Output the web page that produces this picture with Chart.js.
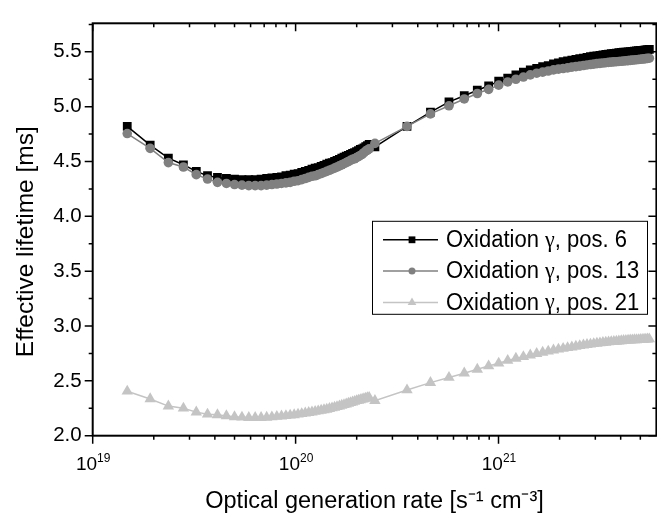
<!DOCTYPE html>
<html><head><meta charset="utf-8">
<script src="https://cdn.jsdelivr.net/npm/chart.js@4.4.1/dist/chart.umd.min.js"></script>
<style>html,body{margin:0;padding:0;background:#fff;overflow:hidden;}#wrap{width:657px;height:518px;overflow:hidden;}canvas{display:block;}</style>
</head><body><div id="wrap"><canvas id="c" width="663" height="518"></canvas></div>
<script>
const generationRate = [
 1.48e19,1.92e19,2.36e19,2.80e19,3.24e19,3.68e19,4.12e19,4.56e19,5.00e19,5.44e19,
 5.88e19,6.32e19,6.76e19,7.20e19,7.64e19,8.08e19,8.52e19,8.96e19,9.40e19,9.84e19,
 1.028e20,1.072e20,1.116e20,1.160e20,1.204e20,1.248e20,1.292e20,1.336e20,1.380e20,1.424e20,
 1.468e20,1.512e20,1.556e20,1.600e20,1.644e20,1.688e20,1.732e20,1.776e20,1.820e20,1.864e20,
 1.908e20,1.952e20,1.996e20,2.040e20,2.084e20,2.128e20,2.172e20,2.216e20,2.260e20,2.304e20,
 2.46e20,3.54e20,4.62e20,5.70e20,6.78e20,7.86e20,8.94e20,1.002e21,1.110e21,1.218e21,
 1.326e21,1.434e21,1.542e21,1.650e21,1.758e21,1.866e21,1.974e21,2.082e21,2.190e21,2.298e21,
 2.406e21,2.514e21,2.622e21,2.730e21,2.838e21,2.946e21,3.054e21,3.162e21,3.270e21,3.378e21,
 3.486e21,3.594e21,3.702e21,3.810e21,3.918e21,4.026e21,4.134e21,4.242e21,4.350e21,4.458e21,
 4.566e21,4.674e21,4.782e21,4.890e21,4.998e21,5.106e21,5.214e21,5.322e21,5.430e21,5.538e21
];
const lifetimePos6 = [
 4.82,4.65,4.53,4.47,4.41,4.37,4.355,4.345,4.34,4.335,
 4.335,4.335,4.34,4.345,4.35,4.355,4.36,4.37,4.375,4.385,
 4.39,4.40,4.41,4.42,4.43,4.44,4.445,4.455,4.465,4.475,
 4.485,4.49,4.50,4.51,4.52,4.53,4.54,4.55,4.555,4.565,
 4.575,4.58,4.59,4.60,4.61,4.615,4.625,4.635,4.645,4.655,
 4.634,4.82,4.95,5.044,5.10,5.15,5.19,5.232,5.26,5.29,
 5.315,5.335,5.35,5.365,5.375,5.39,5.40,5.41,5.418,5.425,
 5.43,5.437,5.443,5.45,5.455,5.46,5.464,5.468,5.472,5.476,
 5.48,5.483,5.486,5.489,5.492,5.494,5.496,5.498,5.50,5.502,
 5.504,5.506,5.508,5.51,5.512,5.514,5.516,5.518,5.52,5.522
];
const lifetimePos13 = [
 4.755,4.62,4.49,4.45,4.38,4.34,4.31,4.30,4.29,4.285,
 4.28,4.28,4.28,4.285,4.29,4.295,4.30,4.305,4.31,4.32,
 4.325,4.335,4.345,4.355,4.365,4.37,4.38,4.39,4.40,4.41,
 4.42,4.43,4.44,4.45,4.46,4.47,4.48,4.49,4.50,4.51,
 4.52,4.525,4.535,4.545,4.555,4.565,4.58,4.595,4.605,4.615,
 4.665,4.82,4.934,5.008,5.07,5.12,5.158,5.196,5.225,5.25,
 5.27,5.29,5.305,5.315,5.325,5.335,5.342,5.348,5.354,5.36,
 5.365,5.37,5.375,5.38,5.384,5.388,5.392,5.395,5.398,5.401,
 5.404,5.406,5.408,5.41,5.412,5.414,5.416,5.418,5.42,5.422,
 5.424,5.426,5.428,5.43,5.432,5.434,5.436,5.438,5.44,5.442
];
const lifetimePos21 = [
 2.405,2.335,2.27,2.25,2.215,2.195,2.19,2.18,2.172,2.168,
 2.165,2.165,2.165,2.167,2.17,2.175,2.178,2.182,2.186,2.19,
 2.195,2.20,2.205,2.21,2.215,2.22,2.225,2.23,2.235,2.24,
 2.246,2.252,2.258,2.264,2.27,2.276,2.282,2.288,2.294,2.30,
 2.306,2.312,2.318,2.322,2.327,2.332,2.336,2.34,2.344,2.348,
 2.32,2.416,2.484,2.53,2.57,2.605,2.635,2.66,2.685,2.705,
 2.72,2.735,2.748,2.76,2.77,2.78,2.788,2.795,2.802,2.808,
 2.814,2.82,2.825,2.83,2.834,2.838,2.842,2.845,2.848,2.851,
 2.854,2.856,2.858,2.86,2.862,2.864,2.866,2.868,2.87,2.871,
 2.872,2.873,2.874,2.875,2.876,2.877,2.878,2.879,2.88,2.881
];
const seriesNames = ['Oxidation γ, pos. 6','Oxidation γ, pos. 13','Oxidation γ, pos. 21'];
const xTickValues = [1e19,1e20,1e21];
const xTickBase = ['10','10','10'];
const xTickExponents = ['19','20','21'];
const xMinorTicks = [2e19,3e19,4e19,5e19,6e19,7e19,8e19,9e19,2e20,3e20,4e20,5e20,6e20,7e20,8e20,9e20,2e21,3e21,4e21,5e21];
const yTickValues = [2.0,2.5,3.0,3.5,4.0,4.5,5.0,5.5];
const yTickLabels = ['2.0','2.5','3.0','3.5','4.0','4.5','5.0','5.5'];
const yMinorTicks = [2.25,2.75,3.25,3.75,4.25,4.75,5.25,5.75];
const xTitle = 'Optical generation rate [s⁻¹ cm⁻³]';
const yTitle = 'Effective lifetime [ms]';

const FONT = "'Liberation Sans', Arial, sans-serif";
const SERIF = "'Liberation Serif', 'Times New Roman', serif";
const styles = [
  {color:'#000000', pointStyle:'rect', radius:6.2, legendRadius:4.8},
  {color:'#808080', pointStyle:'circle', radius:4.8, legendRadius:3.5},
  {color:'#c4c4c4', pointStyle:'triangle', radius:6.6, legendRadius:5}
];
const seriesData = [lifetimePos6, lifetimePos13, lifetimePos21];

const datasets = seriesData.map((arr, i) => ({
  label: seriesNames[i],
  data: generationRate.map((x, k) => ({x: x, y: arr[k]})),
  borderColor: styles[i].color,
  backgroundColor: styles[i].color,
  pointBackgroundColor: styles[i].color,
  pointBorderColor: styles[i].color,
  pointBorderWidth: 0,
  pointStyle: styles[i].pointStyle,
  pointRadius: styles[i].radius,
  borderWidth: 1.5,
  tension: 0,
  order: [2, 1, 3][i]
}));

function drawMarker(ctx, style, r, x, y) {
  ctx.beginPath();
  if (style === 'rect') {
    const s = Math.SQRT1_2 * r;
    ctx.rect(x - s, y - s, 2 * s, 2 * s);
  } else if (style === 'circle') {
    ctx.arc(x, y, r, 0, Math.PI * 2);
  } else {
    const h = Math.sin(Math.PI / 3) * r;
    ctx.moveTo(x, y - r);
    ctx.lineTo(x + h, y + r / 2);
    ctx.lineTo(x - h, y + r / 2);
    ctx.closePath();
  }
  ctx.fill();
}

function drawMixed(ctx, text, x, y, size, measureOnly) {
  const parts = text.split('γ');
  let cx = x;
  parts.forEach((p, idx) => {
    ctx.font = size + 'px ' + FONT;
    if (!measureOnly) ctx.fillText(p, cx, y);
    cx += ctx.measureText(p).width;
    if (idx < parts.length - 1) {
      ctx.font = size + 'px ' + SERIF;
      if (!measureOnly) ctx.fillText('γ', cx, y);
      cx += ctx.measureText('γ').width;
    }
  });
  return cx - x;
}

const framePlugin = {
  id: 'frameTicks',
  afterDatasetsDraw(chart) {
    const {ctx, chartArea: a} = chart;
    const xs = chart.scales.x, ys = chart.scales.y;
    ctx.save();
    ctx.strokeStyle = '#000';
    ctx.lineWidth = 1.5;
    ctx.beginPath();
    const xt = (v, len) => {
      const p = xs.getPixelForValue(v);
      ctx.moveTo(p, a.bottom); ctx.lineTo(p, a.bottom + len);
      ctx.moveTo(p, a.top); ctx.lineTo(p, a.top + len);
    };
    const yt = (v, len) => {
      const p = ys.getPixelForValue(v);
      ctx.moveTo(a.left, p); ctx.lineTo(a.left - len, p);
      ctx.moveTo(a.right, p); ctx.lineTo(a.right - len, p);
    };
    xTickValues.forEach(v => xt(v, 8));
    xMinorTicks.forEach(v => xt(v, 4));
    yTickValues.forEach(v => yt(v, 8));
    yMinorTicks.forEach(v => yt(v, 4));
    ctx.stroke();
    ctx.lineWidth = 2;
    ctx.strokeRect(a.left, a.top, a.right - a.left, a.bottom - a.top);
    ctx.restore();
  },
  afterDraw(chart) {
    const {ctx, chartArea: a} = chart;
    const xs = chart.scales.x;
    ctx.save();
    ctx.fillStyle = '#000';
    ctx.textBaseline = 'alphabetic';
    ctx.textAlign = 'left';
    xTickValues.forEach((v, i) => {
      const p = xs.getPixelForValue(v);
      ctx.font = '19px ' + FONT;
      const wb = ctx.measureText(xTickBase[i]).width;
      ctx.font = '12px ' + FONT;
      const we = ctx.measureText(xTickExponents[i]).width;
      const x0 = p - (wb + we) / 2 + 0.5;
      ctx.font = '19px ' + FONT;
      ctx.fillText(xTickBase[i], x0, a.bottom + 34.3);
      ctx.font = '12px ' + FONT;
      ctx.fillText(xTickExponents[i], x0 + wb, a.bottom + 26);
    });
    ctx.save();
    ctx.translate(32.5, 241.7);
    ctx.rotate(-Math.PI / 2);
    ctx.textAlign = 'center';
    ctx.font = '24.5px ' + FONT;
    ctx.fillText(yTitle, 0, 0);
    ctx.restore();
    const bx = a.left + 279.3, by = a.top + 197.5, bw = 275, bh = 93;
    ctx.fillStyle = '#fff';
    ctx.fillRect(bx, by, bw, bh);
    ctx.strokeStyle = '#000';
    ctx.lineWidth = 1;
    ctx.strokeRect(bx + 0.5, by + 0.5, bw, bh);
    ctx.textBaseline = 'middle';
    const fs = 23;
    const w0 = drawMixed(ctx, seriesNames[0], 0, 0, fs, true);
    const sx = 181 / w0;
    for (let i = 0; i < 3; i++) {
      const y = by + 19 + i * 31.3;
      ctx.strokeStyle = styles[i].color;
      ctx.lineWidth = 1.5;
      ctx.beginPath();
      ctx.moveTo(bx + 11, y); ctx.lineTo(bx + 66, y);
      ctx.stroke();
      ctx.fillStyle = styles[i].color;
      drawMarker(ctx, styles[i].pointStyle, styles[i].legendRadius, bx + 40, y);
      ctx.fillStyle = '#000';
      ctx.save();
      ctx.translate(bx + 74, y + 1);
      ctx.scale(sx, 1);
      drawMixed(ctx, seriesNames[i], 0, 0, fs, false);
      ctx.restore();
    }
    ctx.restore();
  }
};

new Chart(document.getElementById('c'), {
  type: 'line',
  data: {datasets: datasets},
  plugins: [framePlugin],
  options: {
    responsive: false,
    animation: false,
    devicePixelRatio: 1,
    layout: {padding: {top: 15.7, right: 0, left: 0, bottom: 0}},
    plugins: {legend: {display: false}, tooltip: {enabled: false}},
    scales: {
      x: {
        type: 'logarithmic', position: 'bottom', min: 1e19, max: 6e21,
        afterFit(s) { s.height = 82.3; },
        afterBuildTicks(s) { s.ticks = xTickValues.map(v => ({value: v, major: true})); },
        grid: {display: false, drawTicks: false},
        border: {display: false},
        ticks: {display: false},
        title: {display: true, text: xTitle, color: '#000', font: {family: FONT, size: 23.5}, padding: {top: 0, bottom: 2}}
      },
      y: {
        type: 'linear', position: 'left', min: 2, max: 5.76,
        afterFit(s) { s.width = 92.7; },
        afterBuildTicks(s) { s.ticks = yTickValues.map(v => ({value: v})); },
        grid: {display: false, drawTicks: false},
        border: {display: false},
        ticks: {
          padding: 11, color: '#000', font: {family: FONT, size: 20.5},
          callback: (v) => { const i = yTickValues.indexOf(v); return i >= 0 ? yTickLabels[i] : ''; }
        },
        title: {display: false, text: yTitle}
      }
    }
  }
});
</script></body></html>
